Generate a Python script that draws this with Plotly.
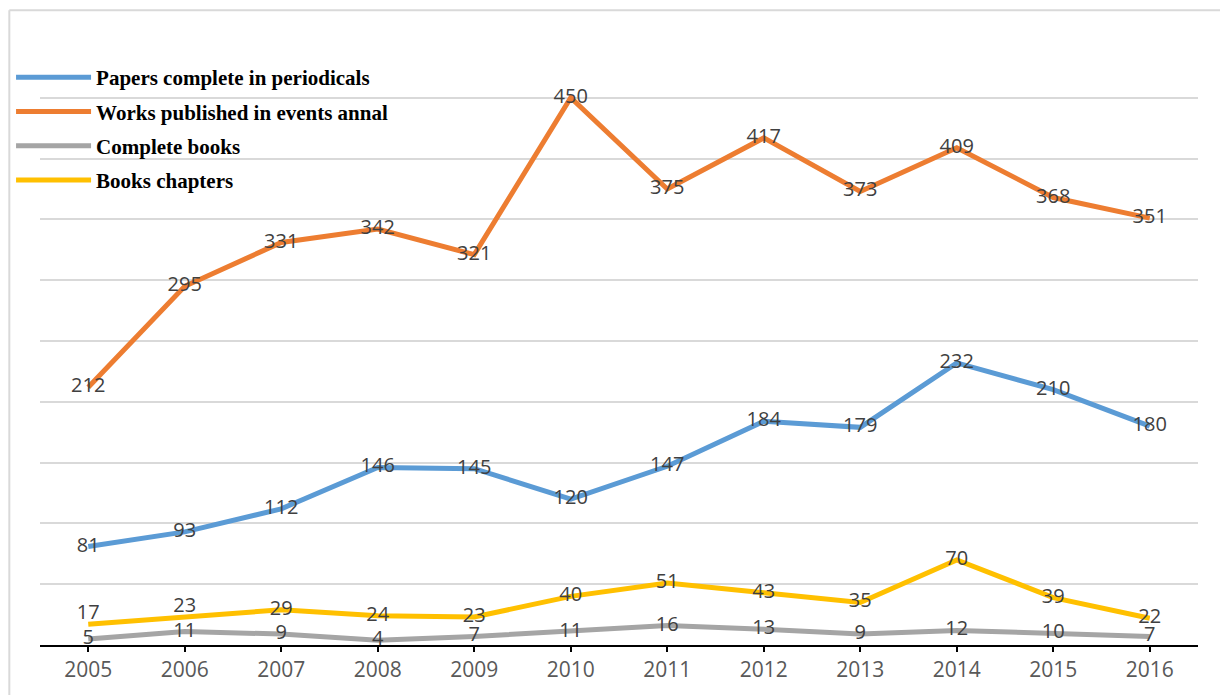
import plotly.graph_objects as go

years = ['2005', '2006', '2007', '2008', '2009', '2010',
         '2011', '2012', '2013', '2014', '2015', '2016']

papers = [81, 93, 112, 146, 145, 120, 147, 184, 179, 232, 210, 180]
works = [212, 295, 331, 342, 321, 450, 375, 417, 373, 409, 368, 351]
books = [5, 11, 9, 4, 7, 11, 16, 13, 9, 12, 10, 7]
chapters = [17, 23, 29, 24, 23, 40, 51, 43, 35, 70, 39, 22]

series = [
    ('Papers complete in periodicals', papers, '#5b9bd5'),
    ('Works published in events annal', works, '#ed7d31'),
    ('Complete books', books, '#a5a5a5'),
    ('Books chapters', chapters, '#ffc000'),
]

LABEL_FONT = dict(family='Open Sans, Liberation Sans, sans-serif', size=20, color='#404040')

fig = go.Figure()
for name, vals, color in series:
    if name == 'Books chapters':
        pos = ['top center', 'top center'] + ['middle center'] * (len(vals) - 2)
    else:
        pos = 'middle center'
    fig.add_trace(go.Scatter(
        x=years, y=vals, name='<b>' + name + '</b>', legendgroup=name,
        mode='lines+text',
        line=dict(color=color, width=5),
        text=[str(v) for v in vals],
        textposition=pos,
        textfont=LABEL_FONT,
        cliponaxis=False,
    ))

# cadrul figurii (sus si stanga)
fig.add_shape(type='line', xref='paper', yref='paper',
              x0=-0.0265, x1=1.05, y0=1.044, y1=1.044,
              line=dict(color='#d9d9d9', width=2))
fig.add_shape(type='line', xref='paper', yref='paper',
              x0=-0.0265, x1=-0.0265, y0=1.044, y1=-0.12,
              line=dict(color='#d9d9d9', width=2))

# pagina are 8px margine pe body, compensam in margini
fig.update_layout(
    width=1228, height=695,
    paper_bgcolor='white', plot_bgcolor='white',
    margin=dict(l=32, r=38, t=29, b=58, autoexpand=False),
    showlegend=True,
    legend=dict(
        x=-0.025, y=0.967, xanchor='left', yanchor='top',
        bgcolor='rgba(0,0,0,0)',
        font=dict(family='Liberation Serif, Times New Roman, serif', size=21, color='black'),
        tracegroupgap=4,
        itemwidth=75,
        traceorder='grouped',
    ),
    xaxis=dict(
        type='category', range=[-0.5, 11.5],
        showline=True, linecolor='black', linewidth=2,
        ticks='outside', ticklen=5, tickcolor='black', tickwidth=2,
        showgrid=False,
        tickfont=dict(family='Open Sans, Liberation Sans, sans-serif', size=21, color='#595959'),
    ),
    yaxis=dict(
        range=[0, 500], dtick=50,
        showticklabels=False,
        showgrid=True, gridcolor='#d9d9d9', gridwidth=2,
        zeroline=False,
    ),
)

fig.write_html('out.html')
